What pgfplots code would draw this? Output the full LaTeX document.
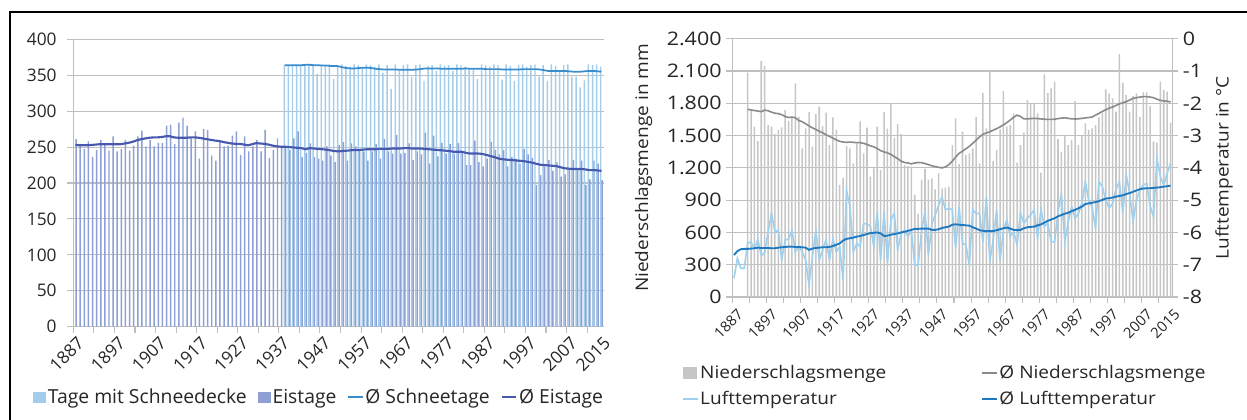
\documentclass[border=0pt]{standalone}
\usepackage{fontspec}
\setmainfont{Open Sans}
\newfontfamily\rfont{Open Sans}[FakeStretch=1.1]
\newfontfamily\rtfont{Open Sans}[FakeStretch=1.15]
\usepackage{pgfplots}
\usepackage{pgfplotstable}
\pgfplotsset{compat=1.18}
\definecolor{schneeC}{HTML}{A3CDEB}
\definecolor{eisC}{HTML}{8E9FD5}
\definecolor{schneeAvgC}{HTML}{3A8DCD}
\definecolor{eisAvgC}{HTML}{4659AE}
\definecolor{nsC}{HTML}{C6C6C6}
\definecolor{nsAvgC}{HTML}{8A8A8A}
\definecolor{ltC}{HTML}{9FD0EE}
\definecolor{ltAvgC}{HTML}{1E79C0}
\definecolor{gridC}{HTML}{BFBFBF}
\definecolor{txtC}{HTML}{262626}
\pgfplotsset{
  mybox/.style={legend image code/.code={\fill[##1] (0pt,-4.2pt) rectangle (10pt,4.2pt);}},
  myline/.style={legend image code/.code={\draw[##1] (0pt,0pt) -- (11pt,0pt);}},
}

% Eistage (days)
\pgfplotstableread{
year val
1887 261
1888 253
1889 247
1890 258
1891 236
1892 246
1893 260
1894 255
1895 245
1896 265
1897 244
1898 247
1899 260
1900 245
1901 252
1902 265
1903 273
1904 251
1905 260
1906 251
1907 256
1908 256
1909 280
1910 281
1911 254
1912 284
1913 291
1914 280
1915 264
1916 272
1917 234
1918 275
1919 274
1920 238
1921 231
1922 257
1923 251
1924 252
1925 266
1926 272
1927 239
1928 265
1929 244
1930 251
1931 260
1932 244
1933 274
1934 235
1935 246
1936 262
1937 251
1938 251
1939 246
1940 262
1941 272
1942 236
1943 242
1944 255
1945 236
1946 234
1947 231
1948 251
1949 238
1950 229
1951 253
1952 257
1953 231
1954 255
1955 251
1956 246
1957 244
1958 231
1959 244
1960 254
1961 234
1962 261
1963 244
1964 241
1965 267
1966 241
1967 242
1968 255
1969 232
1970 244
1971 240
1972 270
1973 227
1974 266
1975 237
1976 256
1977 241
1978 254
1979 241
1980 256
1981 243
1982 225
1983 225
1984 259
1985 229
1986 223
1987 234
1988 257
1989 246
1990 240
1991 246
1992 223
1993 236
1994 234
1995 227
1996 247
1997 240
1998 235
1999 197
2000 211
2001 223
2002 232
2003 217
2004 229
2005 209
2006 212
2007 220
2008 232
2009 220
2010 231
2011 197
2012 205
2013 231
2014 227
2015 204
}\eistage

% Tage mit Schneedecke
\pgfplotstableread{
year val
1938 365
1939 364
1940 365
1941 365
1942 364
1943 365
1944 365
1945 364
1946 352
1947 365
1948 364
1949 365
1950 345
1951 364
1952 365
1953 363
1954 362
1955 365
1956 364
1957 360
1958 365
1959 364
1960 362
1961 365
1962 353
1963 364
1964 331
1965 365
1966 356
1967 364
1968 365
1969 348
1970 364
1971 365
1972 342
1973 363
1974 364
1975 356
1976 365
1977 363
1978 364
1979 356
1980 365
1981 364
1982 362
1983 357
1984 357
1985 345
1986 365
1987 364
1988 362
1989 365
1990 364
1991 344
1992 365
1993 363
1994 342
1995 364
1996 365
1997 362
1998 364
1999 365
2000 348
2001 364
2002 342
2003 365
2004 363
2005 357
2006 364
2007 365
2008 348
2009 348
2010 333
2011 343
2012 365
2013 364
2014 365
2015 362
}\schnee

% Ø Schneetage
\pgfplotstableread{
year val
1938 364
1939 364
1940 364
1941 364
1942 364
1943 364.5
1944 364.5
1945 364
1946 364
1947 363.5
1948 363.5
1949 363
1950 363
1951 362.5
1952 361
1953 360
1954 359.5
1955 359.5
1956 360
1957 360.5
1958 360.5
1959 360
1960 359
1961 358.5
1962 358
1963 358
1964 358
1965 358
1966 357.5
1967 357.5
1968 357.5
1969 357.5
1970 358
1971 358.5
1972 359.5
1973 359.5
1974 359.5
1975 359.5
1976 359
1977 359
1978 359
1979 359
1980 359
1981 359
1982 359.5
1983 359
1984 359
1985 359
1986 359
1987 358.5
1988 358.5
1989 358.5
1990 358.5
1991 358
1992 358
1993 358
1994 358
1995 358
1996 358.5
1997 358.5
1998 358.5
1999 358.5
2000 358
2001 357
2002 356
2003 356
2004 356
2005 356
2006 356
2007 355.5
2008 355
2009 355
2010 355
2011 355.5
2012 356
2013 356
2014 355.5
2015 355
}\schneeavg

% Ø Eistage
\pgfplotstableread{
year val
1887 253
1888 252.5
1889 252.5
1890 252.5
1891 253
1892 253.5
1893 254
1894 254
1895 254
1896 254
1897 254
1898 254
1899 255
1900 256
1901 257.5
1902 259.5
1903 261
1904 262
1905 263
1906 263.5
1907 263.5
1908 264
1909 265
1910 265
1911 263.5
1912 263
1913 263
1914 263
1915 263.5
1916 263.5
1917 263
1918 262
1919 261
1920 260
1921 259
1922 258.5
1923 257
1924 256
1925 255
1926 254.5
1927 254.5
1928 253.5
1929 252.5
1930 254
1931 255.5
1932 255
1933 254.5
1934 253.5
1935 252
1936 251
1937 250.5
1938 250.5
1939 250
1940 249.5
1941 249
1942 248.5
1943 247
1944 248.5
1945 248
1946 247.5
1947 247
1948 246.5
1949 245.5
1950 244.5
1951 244
1952 244.5
1953 245
1954 245.5
1955 246
1956 246
1957 246.5
1958 247
1959 247
1960 247
1961 247.5
1962 247.5
1963 247.5
1964 248
1965 248
1966 248
1967 248.5
1968 248.5
1969 248
1970 248
1971 248
1972 247.5
1973 247
1974 246.5
1975 246
1976 245.5
1977 245
1978 244.5
1979 243.5
1980 243.5
1981 243.5
1982 242
1983 241
1984 241
1985 241
1986 240.5
1987 239
1988 237.5
1989 236
1990 234
1991 233
1992 232.5
1993 232
1994 231.5
1995 231
1996 230.5
1997 229.5
1998 228.5
1999 227
2000 225.5
2001 225
2002 224.5
2003 224
2004 223.5
2005 222
2006 220.5
2007 220
2008 219.5
2009 219.5
2010 219.5
2011 219
2012 218
2013 218
2014 217.5
2015 217
}\eisavg

% Niederschlagsmenge (mm)
\pgfplotstableread{
year val
1891 2084
1892 1730
1893 1583
1894 1449
1895 2193
1896 2146
1897 1598
1898 1583
1899 1514
1900 1552
1901 1576
1902 1737
1903 1635
1904 1675
1905 1985
1906 1675
1907 1381
1908 1567
1909 1719
1910 1397
1911 1700
1912 1768
1913 1589
1914 1713
1915 1412
1916 1669
1917 1552
1918 1041
1919 1106
1920 1403
1921 1381
1922 1242
1923 1428
1924 1632
1925 1335
1926 1573
1927 1118
1928 1195
1929 1583
1930 1180
1931 1719
1932 1564
1933 1796
1934 1480
1935 1607
1936 1514
1937 1226
1938 1217
1939 1211
1940 948
1941 770
1942 1090
1943 1190
1944 1090
1945 1100
1946 1000
1947 1149
1948 1010
1949 1016
1950 1025
1951 1412
1952 1660
1953 1236
1954 1536
1955 1319
1956 1335
1957 1381
1958 1675
1959 1242
1960 1896
1961 1567
1962 2094
1963 1264
1964 1366
1965 1558
1966 1912
1967 1583
1968 1598
1969 1706
1970 1248
1971 1412
1972 1527
1973 1830
1974 1793
1975 1793
1976 1706
1977 1155
1978 2069
1979 1898
1980 1939
1981 2001
1982 1468
1983 1350
1984 1496
1985 1412
1986 1458
1987 1821
1988 1412
1989 1496
1990 1613
1991 1552
1992 1567
1993 1598
1994 1669
1995 1713
1996 1929
1997 1892
1998 1846
1999 1722
2000 2258
2001 1991
2002 1877
2003 1722
2004 1867
2005 1892
2006 1675
2007 1901
2008 1901
2009 1775
2010 1443
2011 1434
2012 2001
2013 1923
2014 1908
2015 1620
}\nieder

% Ø Niederschlagsmenge
\pgfplotstableread{
year val
1891 1744
1892 1738
1893 1733
1894 1728
1895 1722
1896 1737
1897 1731
1898 1718
1899 1708
1900 1704
1901 1694
1902 1678
1903 1668
1904 1672
1905 1666
1906 1640
1907 1629
1908 1610
1909 1590
1910 1572
1911 1557
1912 1540
1913 1526
1914 1508
1915 1492
1916 1476
1917 1460
1918 1447
1919 1440
1920 1437
1921 1440
1922 1437
1923 1434
1924 1434
1925 1428
1926 1418
1927 1405
1928 1395
1929 1380
1930 1360
1931 1348
1932 1340
1933 1325
1934 1305
1935 1285
1936 1262
1937 1250
1938 1245
1939 1238
1940 1245
1941 1250
1942 1248
1943 1240
1944 1230
1945 1220
1946 1212
1947 1205
1948 1200
1949 1208
1950 1230
1951 1262
1952 1300
1953 1335
1954 1355
1955 1378
1956 1400
1957 1428
1958 1458
1959 1488
1960 1512
1961 1525
1962 1535
1963 1550
1964 1565
1965 1580
1966 1600
1967 1620
1968 1645
1969 1670
1970 1690
1971 1678
1972 1655
1973 1655
1974 1658
1975 1660
1976 1658
1977 1655
1978 1652
1979 1650
1980 1650
1981 1652
1982 1658
1983 1662
1984 1665
1985 1660
1986 1656
1987 1654
1988 1656
1989 1660
1990 1664
1991 1668
1992 1672
1993 1690
1994 1706
1995 1725
1996 1740
1997 1755
1998 1765
1999 1780
2000 1795
2001 1805
2002 1815
2003 1830
2004 1846
2005 1852
2006 1858
2007 1862
2008 1862
2009 1858
2010 1852
2011 1838
2012 1828
2013 1822
2014 1820
2015 1812
}\niederavg

% Lufttemperatur (degC)
\pgfplotstableread{
year val
1887 -7.42
1888 -6.80
1889 -7.11
1890 -7.11
1891 -6.34
1892 -6.29
1893 -6.51
1894 -6.21
1895 -6.72
1896 -6.63
1897 -5.98
1898 -5.41
1899 -5.98
1900 -5.93
1901 -6.85
1902 -6.23
1903 -6.21
1904 -5.93
1905 -6.60
1906 -6.44
1907 -6.60
1908 -6.85
1909 -7.63
1910 -6.75
1911 -5.93
1912 -6.85
1913 -6.54
1914 -6.23
1915 -6.85
1916 -6.21
1917 -6.60
1918 -6.45
1919 -7.49
1920 -4.70
1921 -5.20
1922 -6.60
1923 -6.34
1924 -6.44
1925 -5.72
1926 -5.74
1927 -5.82
1928 -6.44
1929 -5.36
1930 -6.85
1931 -5.36
1932 -6.96
1933 -5.61
1934 -5.41
1935 -6.54
1936 -6.05
1937 -5.93
1938 -6.13
1939 -5.93
1940 -7.01
1941 -7.01
1942 -5.93
1943 -5.36
1944 -6.70
1945 -5.72
1946 -5.46
1947 -5.15
1948 -4.91
1949 -5.30
1950 -5.25
1951 -5.30
1952 -6.49
1953 -5.20
1954 -6.34
1955 -6.39
1956 -7.01
1957 -5.30
1958 -5.41
1959 -5.41
1960 -6.29
1961 -4.89
1962 -6.90
1963 -6.23
1964 -5.30
1965 -6.88
1966 -5.93
1967 -5.61
1968 -6.13
1969 -5.98
1970 -6.39
1971 -5.41
1972 -5.72
1973 -5.56
1974 -5.45
1975 -5.30
1976 -6.18
1977 -5.30
1978 -5.82
1979 -5.72
1980 -6.29
1981 -6.29
1982 -5.36
1983 -4.81
1984 -6.29
1985 -5.67
1986 -5.20
1987 -5.56
1988 -5.41
1989 -5.10
1990 -4.43
1991 -5.00
1992 -5.22
1993 -5.87
1994 -4.43
1995 -4.58
1996 -5.00
1997 -5.25
1998 -5.10
1999 -4.67
2000 -4.43
2001 -5.39
2002 -4.22
2003 -4.79
2004 -5.67
2005 -5.00
2006 -4.69
2007 -4.53
2008 -4.48
2009 -5.18
2010 -5.51
2011 -3.71
2012 -4.27
2013 -4.53
2014 -4.17
2015 -3.86
}\luft

% Ø Lufttemperatur
\pgfplotstableread{
year val
1887 -6.70
1888 -6.58
1889 -6.52
1890 -6.51
1891 -6.51
1892 -6.50
1893 -6.49
1894 -6.47
1895 -6.48
1896 -6.48
1897 -6.48
1898 -6.49
1899 -6.49
1900 -6.47
1901 -6.46
1902 -6.45
1903 -6.44
1904 -6.44
1905 -6.45
1906 -6.45
1907 -6.46
1908 -6.47
1909 -6.54
1910 -6.50
1911 -6.48
1912 -6.47
1913 -6.46
1914 -6.46
1915 -6.45
1916 -6.42
1917 -6.38
1918 -6.34
1919 -6.25
1920 -6.20
1921 -6.18
1922 -6.16
1923 -6.13
1924 -6.11
1925 -6.08
1926 -6.05
1927 -6.02
1928 -6.01
1929 -6.00
1930 -6.03
1931 -6.11
1932 -6.10
1933 -6.07
1934 -6.05
1935 -6.03
1936 -6.00
1937 -5.98
1938 -5.95
1939 -5.92
1940 -5.89
1941 -5.89
1942 -5.88
1943 -5.88
1944 -5.88
1945 -5.92
1946 -5.92
1947 -5.90
1948 -5.86
1949 -5.84
1950 -5.82
1951 -5.76
1952 -5.75
1953 -5.76
1954 -5.77
1955 -5.78
1956 -5.79
1957 -5.84
1958 -5.88
1959 -5.93
1960 -5.95
1961 -5.96
1962 -5.96
1963 -5.96
1964 -5.93
1965 -5.90
1966 -5.87
1967 -5.85
1968 -5.88
1969 -5.92
1970 -5.93
1971 -5.92
1972 -5.87
1973 -5.84
1974 -5.83
1975 -5.82
1976 -5.78
1977 -5.75
1978 -5.70
1979 -5.64
1980 -5.60
1981 -5.56
1982 -5.50
1983 -5.46
1984 -5.42
1985 -5.39
1986 -5.34
1987 -5.30
1988 -5.25
1989 -5.20
1990 -5.12
1991 -5.10
1992 -5.08
1993 -5.06
1994 -5.03
1995 -4.99
1996 -4.95
1997 -4.94
1998 -4.92
1999 -4.89
2000 -4.87
2001 -4.85
2002 -4.81
2003 -4.78
2004 -4.74
2005 -4.70
2006 -4.66
2007 -4.64
2008 -4.63
2009 -4.63
2010 -4.62
2011 -4.61
2012 -4.60
2013 -4.58
2014 -4.57
2015 -4.55
}\luftavg

\pgfplotsset{
  common/.style={
    scale only axis,
    xmin=1886.5, xmax=2015.5,
    /pgf/number format/assume math mode=true,
    tick label style={text=txtC},
    label style={text=txtC},
    axis line style={draw=gridC, line width=0.8pt},
    tick style={draw=gridC, line width=0.8pt},
    grid style={draw=gridC, line width=0.8pt},
    tick align=outside,
    major tick length=4.5pt,
    minor tick length=4.5pt,
    xtick={1887,1897,1907,1917,1927,1937,1947,1957,1967,1977,1987,1997,2007,2015},
    xticklabels={1887,1897,1907,1917,1927,1937,1947,1957,1967,1977,1987,1997,2007,2015},
    every major x tick/.append style={draw=none},
    minor xtick={1886.5,1891.5,...,2012},
    xticklabel style={rotate=45, anchor=east, inner sep=1pt},
    legend style={draw=none, fill=none, text=txtC,
      inner sep=0pt, nodes={inner sep=1.2pt}},
    legend cell align=left,
  }
}

\begin{document}
\begin{tikzpicture}
\useasboundingbox (0,0) rectangle (935.25pt,314.25pt);
\draw[line width=1.8pt, black] (7.5pt,-3pt) -- (7.5pt,305.3pt) -- (940pt,305.3pt);

% ---------- left chart ----------
\begin{axis}[common,
  at={(55pt,69.225pt)}, anchor=south west,
  width=397.65pt, height=215.55pt,
  ymin=0, ymax=400, ytick={0,50,...,400},
  ymajorgrids,
  axis x line*=bottom, axis y line*=left,
  yticklabel style={font=\fontsize{13}{15}\selectfont, xshift=-4.5pt},
  xticklabel style={font=\fontsize{13}{15}\selectfont, yshift=-7pt},
  legend columns=-1,
  legend style={at={(0.463,-0.245)}, anchor=center,
    font=\fontsize{14.5}{16}\selectfont,
    /tikz/every even column/.append style={column sep=7pt}},
]
\addplot[ybar, bar width=1.1pt, bar shift=-0.55pt, fill=schneeC, draw=none, mybox] table[x=year,y=val] {\schnee};
\addlegendentry{Tage mit Schneedecke}
\addplot[ybar, bar width=1.1pt, bar shift=0.55pt, fill=eisC, draw=none, mybox] table[x=year,y=val] {\eistage};
\addlegendentry{Eistage}
\addplot[sharp plot, no marks, draw=schneeAvgC, line width=1.3pt, myline] table[x=year,y=val] {\schneeavg};
\addlegendentry{Ø Schneetage}
\addplot[sharp plot, no marks, draw=eisAvgC, line width=1.6pt, myline] table[x=year,y=val] {\eisavg};
\addlegendentry{Ø Eistage}
\end{axis}

% ---------- right chart: precipitation ----------
\begin{axis}[common,
  at={(549.2pt,91.5pt)}, anchor=south west,
  width=330pt, height=193.7pt,
  ymin=0, ymax=2400, ytick={0,300,...,2400},
  /pgf/number format/1000 sep={.},
  ymajorgrids,
  axis x line*=bottom, axis y line*=left,
  yticklabel style={font=\rtfont\fontsize{14}{16}\selectfont},
  xticklabel style={font=\fontsize{11}{13}\selectfont, yshift=-8pt},
  ylabel={Niederschlagsmenge in mm},
  ylabel style={font=\rfont\fontsize{13}{15}\selectfont},
  ylabel shift=4pt,
]
\addplot[ybar, bar width=1.15pt, bar shift=0pt, fill=nsC, draw=none] table[x=year,y=val] {\nieder};
\addplot[sharp plot, no marks, draw=nsAvgC, line width=1.2pt] table[x=year,y=val] {\niederavg};
\end{axis}

% ---------- right chart: temperature ----------
\begin{axis}[common,
  at={(549.2pt,91.5pt)}, anchor=south west,
  width=330pt, height=193.7pt,
  ymin=-8, ymax=0, ytick={-8,-7,...,0},
  axis x line=none, axis y line*=right,
  yticklabel style={font=\rtfont\fontsize{14}{16}\selectfont},
  ylabel={Lufttemperatur in °C},
  ylabel style={font=\rfont\fontsize{13}{15}\selectfont},
  ylabel shift=3pt,
  legend columns=2,
  legend style={at={(-0.114,-0.258)}, anchor=north west,
    font=\rfont\fontsize{13}{15}\selectfont, row sep=5.5pt,
    /tikz/every even column/.append style={column sep=70pt}},
]
\addlegendimage{mybox, fill=nsC, draw=none}
\addlegendentry{Niederschlagsmenge}
\addlegendimage{myline, draw=nsAvgC, line width=1.2pt}
\addlegendentry{Ø Niederschlagsmenge}
\addplot[sharp plot, no marks, draw=ltC, line width=1.2pt, myline] table[x=year,y=val] {\luft};
\addlegendentry{Lufttemperatur}
\addplot[sharp plot, no marks, draw=ltAvgC, line width=1.4pt, myline] table[x=year,y=val] {\luftavg};
\addlegendentry{Ø Lufttemperatur}
\end{axis}
\end{tikzpicture}
\end{document}
